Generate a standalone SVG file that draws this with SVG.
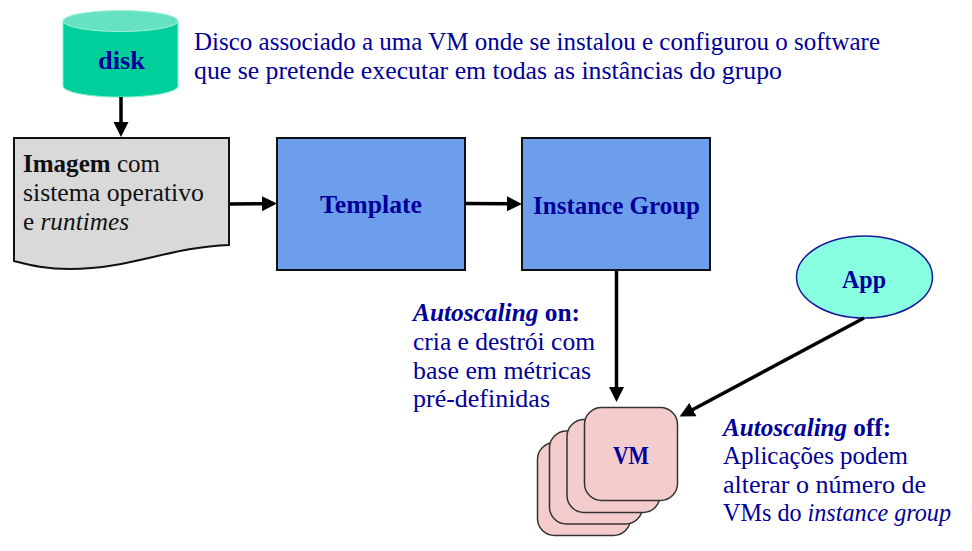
<svg xmlns="http://www.w3.org/2000/svg" width="972" height="551" viewBox="0 0 972 551">
<style>
text{font-family:"Liberation Serif","DejaVu Serif",serif;font-size:26px;fill:#000099}
.k{fill:#111}
.b{font-weight:bold}
.i{font-style:italic}
.box{fill:#6d9eeb;stroke:#111;stroke-width:2}
.vm{fill:#f4cccc;stroke:#333;stroke-width:1.5}
.c{fill:none;stroke:#000;stroke-width:3.5}
</style>
<defs><marker id="a" markerUnits="userSpaceOnUse" markerWidth="16" markerHeight="16" viewBox="0 0 16 16" refX="1" refY="8" orient="auto"><path d="M0 0.500L15 8L0 15.500z" fill="#000"/></marker></defs>
<rect width="972" height="551" fill="#fff"/>
<g id="disk">
<path d="M63 21V86A57 11 0 0 0 178 86V21z" fill="#00cf9b" stroke="#7ff0d0"/>
<ellipse cx="120.500" cy="21" rx="57.500" ry="10.500" fill="#66e2c3" stroke="#a0f0dc"/>
<text x="98" y="69" class="b" textLength="47" lengthAdjust="spacingAndGlyphs">disk</text>
</g>
<text lengthAdjust="spacingAndGlyphs" textLength="686" x="194" y="50">Disco associado a uma VM onde se instalou e configurou o software</text>
<text lengthAdjust="spacingAndGlyphs" textLength="588" x="194" y="79">que se pretende executar em todas as instâncias do grupo</text>
<g id="imagem">
<path d="M14 138H229V245C170 247 130 269 70 269C45 269 30 265 14 261z" fill="#d9d9d9" stroke="#111" stroke-width="2"/>
<text class="k" lengthAdjust="spacingAndGlyphs" x="23" y="172" textLength="137"><tspan class="b">Imagem</tspan> com</text>
<text class="k" lengthAdjust="spacingAndGlyphs" x="23" y="201" textLength="181">sistema operativo</text>
<text class="k" lengthAdjust="spacingAndGlyphs" x="23" y="230" textLength="106">e <tspan class="i">runtimes</tspan></text>
</g>
<g id="template"><rect class="box" x="277" y="138" width="188" height="132"/>
<text x="320" y="213" class="b" textLength="102" lengthAdjust="spacingAndGlyphs">Template</text></g>
<g id="instance-group"><rect class="box" x="522" y="138" width="188" height="132"/>
<text x="533" y="214" class="b" textLength="167" lengthAdjust="spacingAndGlyphs">Instance Group</text></g>
<g id="app"><ellipse cx="864.500" cy="277" rx="68" ry="41" fill="#88ffe0" stroke="#1a1a99" stroke-width="1.500"/>
<text x="842" y="288" class="b" textLength="44" lengthAdjust="spacingAndGlyphs">App</text></g>
<g id="vm">
<rect class="vm" x="537.500" y="442.500" width="93" height="93" rx="17"/>
<rect class="vm" x="549.500" y="431" width="93" height="93" rx="17"/>
<rect class="vm" x="567" y="419.500" width="93" height="93" rx="17"/>
<rect class="vm" x="584.500" y="407.500" width="93" height="93" rx="17"/>
<text x="613" y="464" class="b" textLength="36" lengthAdjust="spacingAndGlyphs">VM</text>
</g>
<g id="connectors">
<path class="c" marker-end="url(#a)" d="M121 97V123"/>
<path class="c" marker-end="url(#a)" d="M230 204L263 203.700"/>
<path class="c" marker-end="url(#a)" d="M465 203.500L508 203.800"/>
<path class="c" marker-end="url(#a)" d="M616.500 271V388"/>
<path class="c" marker-end="url(#a)" d="M864 318L692 410"/>
</g>
<text x="413" y="321" class="b" textLength="167" lengthAdjust="spacingAndGlyphs"><tspan class="i">Autoscaling</tspan> on:</text>
<text x="413" y="350" textLength="182" lengthAdjust="spacingAndGlyphs">cria e destrói com</text>
<text x="413" y="379" textLength="178" lengthAdjust="spacingAndGlyphs">base em métricas</text>
<text x="413" y="407" textLength="137" lengthAdjust="spacingAndGlyphs">pré-definidas</text>
<text x="723" y="436" class="b" textLength="168" lengthAdjust="spacingAndGlyphs"><tspan class="i">Autoscaling</tspan> off:</text>
<text x="723" y="464" textLength="185" lengthAdjust="spacingAndGlyphs">Aplicações podem</text>
<text x="723" y="493" textLength="203" lengthAdjust="spacingAndGlyphs">alterar o número de</text>
<text x="723" y="521" textLength="228" lengthAdjust="spacingAndGlyphs">VMs do <tspan class="i">instance group</tspan></text>
</svg>
